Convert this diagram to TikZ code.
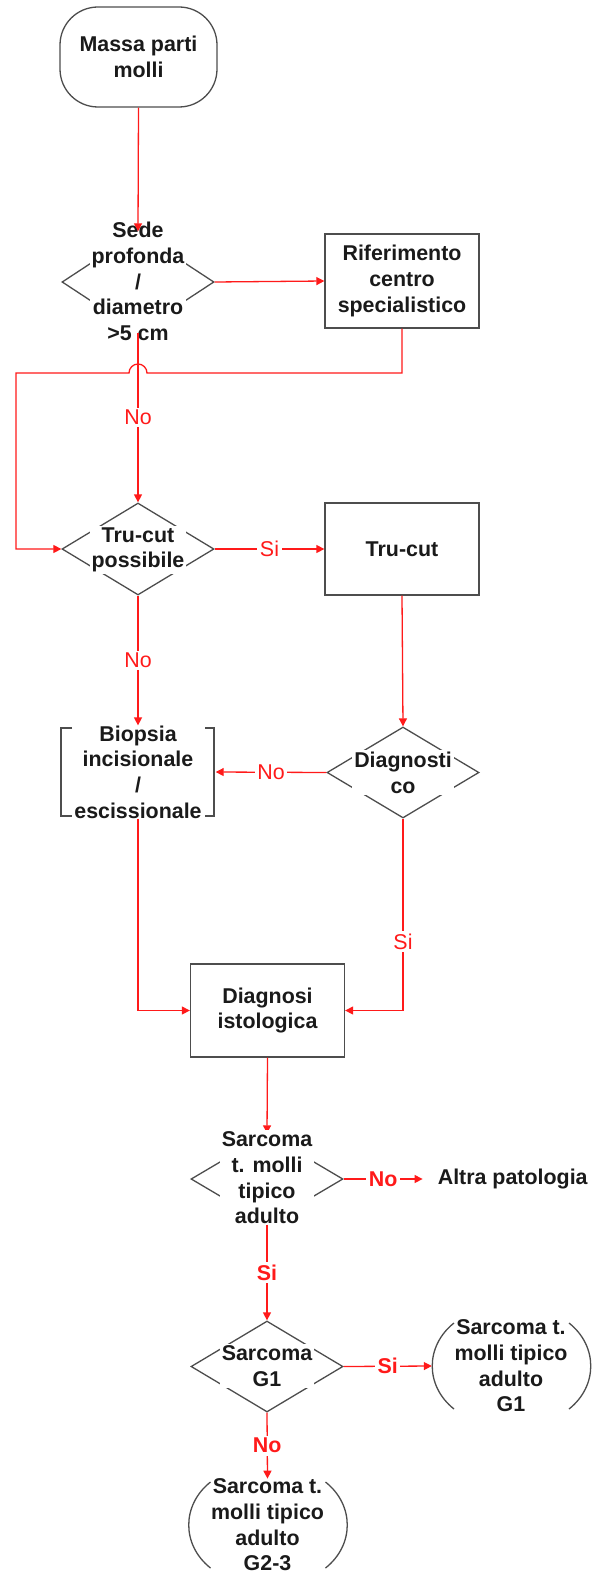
\documentclass[tikz,border=0pt]{standalone}
\usepackage{fontspec}
\setmainfont{Liberation Sans}
\usetikzlibrary{shapes.geometric,arrows.meta,calc}
\definecolor{lineclr}{HTML}{FF1A1A}
\definecolor{shapeclr}{HTML}{4D4D4D}
\definecolor{txtclr}{HTML}{1A1A1A}

\begin{document}
\begin{tikzpicture}[x=1bp,y=-1bp,
  txt/.style={font=\fontsize{21.4bp}{25.7bp}\selectfont\bfseries, text=txtclr, align=center},
  outline/.style={draw=shapeclr, line width=1.3bp},
  procbox/.style={txt, outline, rectangle, minimum width=154bp, minimum height=93bp, inner sep=0pt},
  terminal/.style={procbox, rounded corners=38bp, minimum width=157bp, minimum height=100bp},
  decision/.style={outline, diamond, inner sep=0pt},
  dtext/.style={txt, fill=white, inner sep=2bp},
  plain/.style={txt, inner sep=0pt, minimum width=158bp, minimum height=100bp},
  conn/.style={draw=lineclr, line width=1.3bp, -{Triangle[length=8bp,width=8bp]}},
  lbl/.style={fill=white, text=lineclr, inner sep=2.5bp, font=\fontsize{21.4bp}{25.7bp}\selectfont},
  lblb/.style={lbl, font=\fontsize{21.4bp}{25.7bp}\selectfont\bfseries},
]
\clip (0,0) rectangle (592,1577);
\fill[white] (0,0) rectangle (592,1577);

% shapes
\node[terminal] (start) at (138.5,57) {Massa parti\\molli};
\node[decision, minimum width=152bp, minimum height=100bp] (d1) at (138,282) {};
\node[procbox, minimum height=94bp] (rif) at (402,281) {Riferimento\\centro\\specialistico};
\node[decision, minimum width=152bp, minimum height=92bp] (d2) at (138,549) {};
\node[procbox, minimum height=92bp] (tc) at (402,549) {Tru-cut};
\node[plain, minimum width=155bp, minimum height=92bp] (bio) at (138,772) {Biopsia\\incisionale\\/\\escissionale};
\node[decision, minimum width=152bp, minimum height=91bp] (d5) at (403,772.5) {};
\node[procbox] (dx) at (267.5,1010.5) {Diagnosi\\istologica};
\node[decision, minimum width=152bp, minimum height=90bp] (d3) at (267,1179) {};
\node[txt, inner ysep=0pt, inner xsep=15bp] (altra) at (512.7,1179) {Altra patologia};
\node[decision, minimum width=152bp, minimum height=91bp] (d4) at (267,1366.5) {};
\node[plain] (g1) at (511,1366) {Sarcoma t.\\molli tipico\\adulto\\G1};
\node[plain, minimum height=84bp] (g23) at (267.5,1525) {Sarcoma t.\\molli tipico\\adulto\\G2-3};

% square brackets around the biopsy step
\draw[outline] ($(bio.center)+(-66,-44)$) -- ++(-11,0) -- ++(0,88) -- ++(11,0);
\draw[outline] ($(bio.center)+(67,-44)$) -- ++(9,0) -- ++(0,88) -- ++(-9,0);

% round brackets around the final outcomes
\foreach \n in {g1,g23} {
  \draw[outline] ($(\n.center)+(-57,-43)$) .. controls +(-29,23) and +(-29,-23) .. ($(\n.center)+(-57,43)$);
  \draw[outline] ($(\n.center)+(58,-43)$) .. controls +(29,23) and +(29,-23) .. ($(\n.center)+(58,43)$);
}

% this connector runs under the decision text
\draw[conn] (dx.south) -- (d3.north);

% decision texts
\node[dtext] (d1t) at (138,281.5) {Sede\\profonda\\/\\diametro\\>5 cm};
\node[dtext] (d2t) at (138,550) {Tru-cut\\possibile};
\node[dtext] (d5t) at (403,772.5) {Diagnosti\\co};
\node[dtext] (d3t) at (267,1178) {Sarcoma\\t. molli\\tipico\\adulto};
\node[dtext] (d4t) at (267,1366) {Sarcoma\\G1};

% connectors
\draw[conn] (start.south) -- (d1.north);
\draw[conn] (d1.east) -- (rif.west);
\draw[conn] (d1.south) -- node[lbl]{No} (d2.north);
\coordinate (hopy) at (0,373);
\coordinate (leftx) at (16,0);
\draw[conn] (rif.south) |- ($(d1.south |- hopy)+(9,0)$)
  arc[start angle=0, end angle=180, radius=9bp] -- (leftx |- hopy) |- (d2.west);
\draw[conn] (d2.east) -- node[lbl]{Si} (tc.west);
\draw[conn] (d2.south) -- node[lbl]{No} (bio.north);
\draw[conn] (tc.south) -- (d5.north);
\draw[conn] (d5.west) -- node[lbl]{No} (bio.east);
\draw[conn] (bio.south) |- (dx.west);
\draw[conn] (d5.south) |- node[lbl, pos=0.32]{Si} (dx.east);
\draw[conn] (d3.east) -- node[lblb]{No} (altra.west);
\draw[conn] (d3.south) -- node[lblb]{Si} (d4.north);
\draw[conn] (d4.east) -- node[lblb]{Si} (g1.west);
\draw[conn] (d4.south) -- node[lblb]{No} (g23.north);
\end{tikzpicture}
\end{document}
